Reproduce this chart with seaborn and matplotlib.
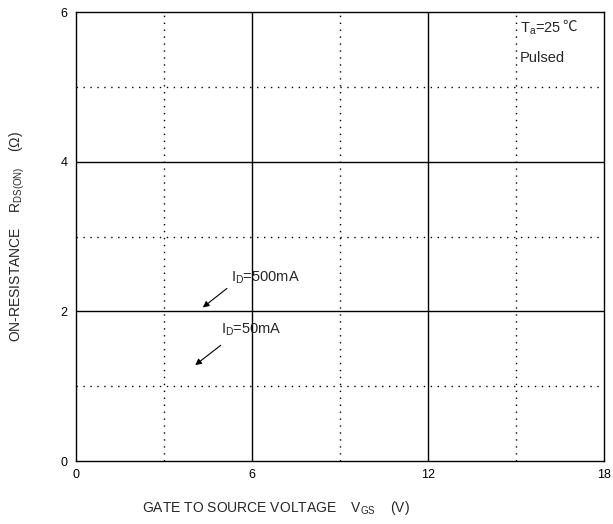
import numpy as np
import pandas as pd
import matplotlib
matplotlib.use("Agg")
import matplotlib.pyplot as plt
import seaborn as sns

# -------------------------------------------------
# Datos del gráfico
# -------------------------------------------------
x_ticks = [0, 6, 12, 18]
y_ticks = [0, 2, 4, 6]
x_minor = [3, 9, 15]
y_minor = [1, 3, 5]

curve_labels = [r"I$_{\mathrm{D}}$=500mA", r"I$_{\mathrm{D}}$=50mA"]
label_xy = [(5.29, 2.45), (4.94, 1.76)]
arrow_tail = [(5.22, 2.33), (5.01, 1.57)]
arrow_head = [(4.25, 2.03), (3.99, 1.26)]

cond_temp = r"T$_{\mathrm{a}}$=25"
cond_unit = "℃"
cond_mode = "Pulsed"

# -------------------------------------------------
# Estilo
# -------------------------------------------------
sns.set_style("white")
plt.rcParams["font.family"] = ["Liberation Sans", "DejaVu Sans", "Noto Sans CJK SC"]
plt.rcParams["mathtext.fontset"] = "custom"
plt.rcParams["mathtext.rm"] = "Liberation Sans"
plt.rcParams["mathtext.it"] = "Liberation Sans"

fig = plt.figure(figsize=(6.13, 5.24), dpi=100)
ax = fig.add_axes([0.124, 0.120, 0.861, 0.857])

ax.set_xlim(x_ticks[0], x_ticks[-1])
ax.set_ylim(y_ticks[0], y_ticks[-1])
ax.set_xticks(x_ticks)
ax.set_yticks(y_ticks)
ax.tick_params(labelsize=9, length=3, direction="in", colors="black", pad=6)

for v in x_ticks[1:-1]:
    ax.axvline(v, color="black", lw=1.0)
for v in y_ticks[1:-1]:
    ax.axhline(v, color="black", lw=1.0)
for v in x_minor:
    ax.axvline(v, color="black", lw=1.0, ls=(0, (1, 4)))
for v in y_minor:
    ax.axhline(v, color="black", lw=1.0, ls=(0, (1, 4)))

for s in ax.spines.values():
    s.set_color("black")
    s.set_linewidth(1.0)

# -------------------------------------------------
# Anotaciones
# -------------------------------------------------
for lab, pos, tail, head in zip(curve_labels, label_xy, arrow_tail, arrow_head):
    ax.text(pos[0], pos[1], lab, fontsize=10.5, va="center", ha="left")
    ax.annotate("", xy=head, xytext=tail,
                arrowprops=dict(arrowstyle="-|>", color="black", lw=0.8,
                                mutation_scale=9))

t = ax.text(15.14, 5.77, cond_temp, fontsize=10.5, va="center", ha="left")
ax.annotate(cond_unit, xy=(1, 1), xycoords=t, xytext=(1, 1),
            textcoords="offset points", va="top", ha="left",
            fontsize=10.5, family=["Noto Sans CJK SC", "DejaVu Sans"])
ax.text(15.14, 5.39, cond_mode, fontsize=10.5, va="center", ha="left")

ax.set_xlabel(r"GATE TO SOURCE VOLTAGE    V$_{\mathrm{GS}}$    (V)", fontsize=10)
ax.xaxis.set_label_coords(0.379, -0.085)
ax.set_ylabel(r"ON-RESISTANCE    R$_{\mathrm{DS(ON)}}$    ($\Omega$)", fontsize=10, labelpad=24)

fig.savefig("out.png", dpi=100)
